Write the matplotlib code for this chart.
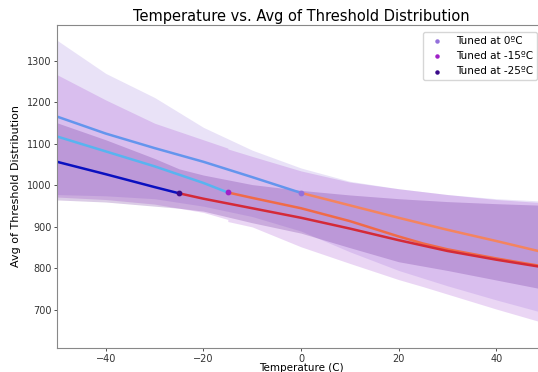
import matplotlib.pyplot as plt
import numpy as np

# mean fit lines, one piece below the tuning temperature, one above
x0_lo = [-50, -40, -30, -20, -10, 0]
y0_lo = [1166, 1125, 1090, 1057, 1020, 982]
x0_hi = [0, 10, 20, 30, 40, 50]
y0_hi = [982, 952, 922, 893, 866, 838]

x15_lo = [-50, -40, -30, -20, -15]
y15_lo = [1118, 1082, 1046, 1006, 983]
x15_hi = [-15, -10, 0, 10, 20, 25, 30, 40, 50]
y15_hi = [983, 970, 945, 914, 877, 860, 846, 824, 804]

x25_lo = [-50, -40, -30, -25]
y25_lo = [1057, 1027, 996, 981]
x25_hi = [-25, -20, -10, 0, 10, 20, 30, 40, 50]
y25_hi = [981, 968, 945, 922, 896, 868, 842, 821, 802]

# confidence bands
up0_lo = [1350, 1270, 1212, 1140, 1085, 1042]
dn0_lo = [978, 975, 968, 950, 925, 890]
up0_hi = [1042, 1010, 992, 978, 968, 962]
dn0_hi = [890, 840, 795, 758, 724, 692]

up15_lo = [1267, 1206, 1150, 1110, 1090]
dn15_lo = [972, 966, 955, 935, 918]
up15_hi = [1088, 1070, 1035, 1008, 992, 985, 978, 966, 958]
dn15_hi = [913, 900, 852, 812, 773, 756, 738, 702, 668]

up25_lo = [1151, 1110, 1065, 1040]
dn25_lo = [965, 960, 950, 945]
up25_hi = [1040, 1025, 1002, 988, 977, 968, 961, 956, 952]
dn25_hi = [945, 938, 910, 885, 850, 816, 795, 772, 749]

labels = ['Tuned at 0ºC', 'Tuned at -15ºC', 'Tuned at -25ºC']
tune_x = [0, -15, -25]
tune_y = [982, 983, 981]
dot_colors = ['#9370DB', '#A020C8', '#3A0A8A']
band_colors = ['#9370DB', '#9932CC', '#4B0082']

fig = plt.figure(figsize=(5.38, 3.72), dpi=100)
ax = fig.add_axes([0.106, 0.0645, 0.907, 0.8685])

ax.fill_between(x0_lo, dn0_lo, up0_lo, color=band_colors[0], alpha=0.2, lw=0)
ax.fill_between(x0_hi, dn0_hi, up0_hi, color=band_colors[0], alpha=0.2, lw=0)
ax.fill_between(x15_lo, dn15_lo, up15_lo, color=band_colors[1], alpha=0.2, lw=0)
ax.fill_between(x15_hi, dn15_hi, up15_hi, color=band_colors[1], alpha=0.2, lw=0)
ax.fill_between(x25_lo, dn25_lo, up25_lo, color=band_colors[2], alpha=0.2, lw=0)
ax.fill_between(x25_hi, dn25_hi, up25_hi, color=band_colors[2], alpha=0.2, lw=0)

ax.plot(x0_lo, y0_lo, color='#6495ED', lw=1.8)
ax.plot(x0_hi, y0_hi, color='#F4845F', lw=1.8)
ax.plot(x15_lo, y15_lo, color='#58B4F0', lw=1.8)
ax.plot(x15_hi, y15_hi, color='#F06A48', lw=1.8)
ax.plot(x25_lo, y25_lo, color='#0A10C0', lw=1.8)
ax.plot(x25_hi, y25_hi, color='#D42A38', lw=1.8)

for i in range(3):
    ax.scatter(tune_x[i], tune_y[i], s=10, color=dot_colors[i], label=labels[i], zorder=5)

ax.set_xlim(-50, 50)
ax.set_ylim(608, 1387)
ax.set_yticks([700, 800, 900, 1000, 1100, 1200, 1300])
ax.tick_params(labelsize=7, length=2.5, width=0.6, pad=1.5, colors='#333333')
for s in ax.spines.values():
    s.set_color('#888888')
    s.set_linewidth(0.8)

ax.set_title('Temperature vs. Avg of Threshold Distribution', fontsize=10.5, pad=3)
ax.set_xlabel('Temperature (C)', fontsize=7.5, va='center')
ax.xaxis.set_label_coords(0.5, -0.062)
ax.set_ylabel('Avg of Threshold Distribution', fontsize=8, labelpad=4)
ax.legend(loc='upper right', fontsize=7.5, markerscale=0.7, bbox_to_anchor=(0.995, 0.995))

fig.savefig('out.png', dpi=100)
